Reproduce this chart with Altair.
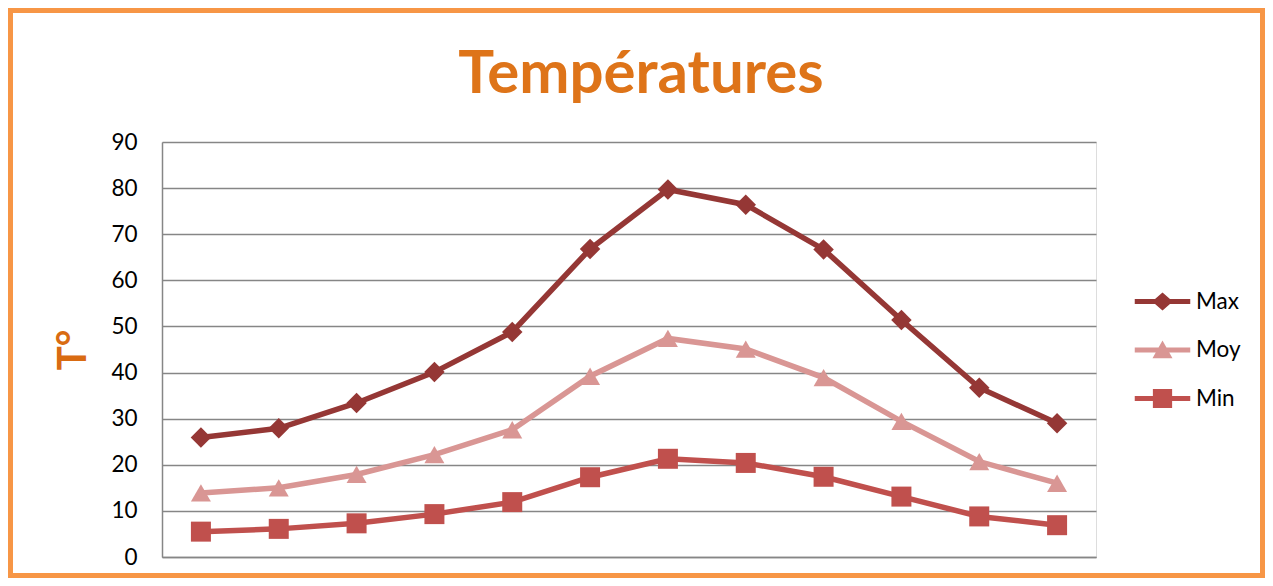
import altair as alt
import pandas as pd

months = ["Jan", "Fév", "Mar", "Avr", "Mai", "Juin", "Juil", "Août", "Sep", "Oct", "Nov", "Déc"]
series_names = ["Max", "Moy", "Min"]
max_vals = [25.9, 27.9, 33.4, 40.1, 48.8, 66.8, 79.7, 76.4, 66.7, 51.4, 36.7, 29.0]
moy_vals = [13.9, 15.0, 17.9, 22.2, 27.6, 39.2, 47.4, 45.1, 38.9, 29.4, 20.7, 16.0]
min_vals = [5.5, 6.1, 7.3, 9.3, 11.9, 17.3, 21.3, 20.4, 17.4, 13.1, 8.8, 6.9]
colors = ["#953735", "#D99694", "#C0504D"]
point_shapes = ["diamond", "triangle-up", "square"]

rows = []
for name, vals in zip(series_names, [max_vals, moy_vals, min_vals]):
    for m, v in zip(months, vals):
        rows.append({"Mois": m, "Série": name, "T": v})
df = pd.DataFrame(rows)

line_path = "M-1.5,-0.13 L1.5,-0.13 L1.5,0.13 L-1.5,0.13 Z "
legend_shapes = [
    line_path + "M0,-0.48 L0.56,0 L0,0.48 L-0.56,0 Z",
    line_path + "M0,-0.52 L0.54,0.44 L-0.54,0.44 Z",
    line_path + "M-0.52,-0.52 L0.52,-0.52 L0.52,0.52 L-0.52,0.52 Z",
]

W, H = 934, 415
PL, PT = 154, 134
TOTAL_W, TOTAL_H = 1257, 570

x_enc = alt.X("Mois:N", sort=months, scale=alt.Scale(type="point", padding=0.5),
              axis=alt.Axis(labels=False, ticks=False, title=None, domainColor="#868686",
                            domainWidth=1.5, grid=False))
y_enc = alt.Y("T:Q", scale=alt.Scale(domain=[0, 90], nice=False),
              axis=alt.Axis(values=list(range(0, 91, 10)), ticks=False, labelPadding=25,
                            labelFont="Lato", labelFontSize=22.5, labelColor="#000000",
                            domainColor="#868686", domainWidth=1.5,
                            gridColor="#868686", gridWidth=1.5,
                            title="T°", titleFont="Lato", titleFontSize=40, titleFontWeight="bold",
                            titleColor="#D96B12", titleX=-89, titleY=207.5,
                            titleAlign="center", titleBaseline="middle"))
color_enc = alt.Color("Série:N", scale=alt.Scale(domain=series_names, range=colors), legend=None)

base = alt.Chart(df)
lines = base.mark_line(strokeWidth=5.5).encode(x=x_enc, y=y_enc, color=color_enc, detail="Série:N")

point_layers = []
for name, shp in zip(series_names, point_shapes):
    point_layers.append(
        base.transform_filter(alt.datum["Série"] == name)
        .mark_point(shape=shp, filled=True, size=400 if shp != "diamond" else 420, opacity=1)
        .encode(x=x_enc, y=y_enc, color=color_enc)
    )

legend_layer = base.transform_filter(alt.datum["T"] < -1000).mark_point(filled=True, opacity=1).encode(
    x=x_enc, y=y_enc,
    color=alt.Color("Série:N", scale=alt.Scale(domain=series_names, range=colors),
                    legend=alt.Legend(title=None, orient="none", legendX=982, legendY=141,
                                      symbolSize=1369, symbolOpacity=1, symbolStrokeWidth=0,
                                      labelFont="Lato", labelFontSize=22.5, labelColor="#000000",
                                      labelOffset=15, rowPadding=18.5, padding=0)),
    shape=alt.Shape("Série:N", scale=alt.Scale(domain=series_names, range=legend_shapes)),
)

border = alt.Chart(pd.DataFrame({"a": [0]})).mark_rect(
    filled=False, stroke="#F79646", strokeWidth=5
).encode(x=alt.value(-PL + 2.5), x2=alt.value(TOTAL_W - PL - 2.5),
         y=alt.value(-PT + 2.5), y2=alt.value(TOTAL_H - PT - 2.5))

chart = alt.layer(border, lines, *point_layers, legend_layer).resolve_legend(
    color="independent", shape="independent"
).properties(
    width=W, height=H,
    padding={"left": PL, "top": PT, "right": TOTAL_W - PL - W, "bottom": TOTAL_H - PT - H},
    autosize=alt.AutoSizeParams(type="none"),
    title=alt.TitleParams("Températures", font="Lato", fontSize=60, fontWeight="bold",
                          color="#DE7419", anchor="middle", frame="group", offset=0,
                          baseline="alphabetic", dx=12, dy=145),
).configure_view(stroke=None).configure(background="#FFFFFF")

chart.save("out.html", embed_options={"renderer": "svg", "actions": False})
